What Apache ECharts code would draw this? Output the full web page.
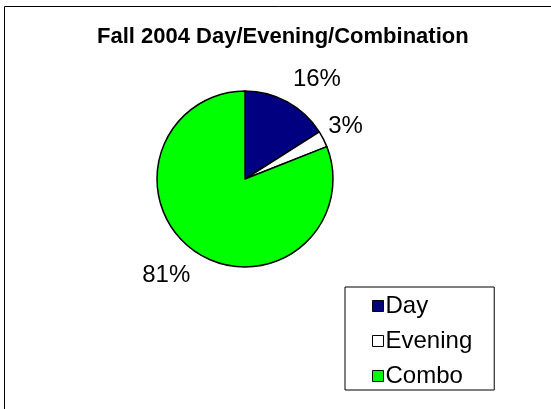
<!DOCTYPE html>
<html>
<head>
<meta charset="UTF-8">
<title>Fall 2004 Day/Evening/Combination</title>
<script src="https://cdn.jsdelivr.net/npm/echarts@6/dist/echarts.min.js"></script>
<style>
  html, body { margin: 0; padding: 0; background: #fff; }
  #chart { width: 551px; height: 409px; }
</style>
</head>
<body>
<div id="chart"></div>
<script>
var categories = ['Day', 'Evening', 'Combo'];
var percents = [16, 3, 81];
var colors = ['#000080', '#ffffff', '#00ff00'];
// label leader tweaks so the text sits where Excel put it
var lineLen = [26, 29, 29];
var lineLen2 = [-12, -26, -16];

var myChart = echarts.init(document.getElementById('chart'));

var pieData = categories.map(function (name, i) {
  return {
    name: name,
    value: percents[i],
    itemStyle: { color: colors[i] },
    labelLine: { length: lineLen[i], length2: lineLen2[i] }
  };
});

var option = {
  animation: false,
  title: {
    text: 'Fall 2004 Day/Evening/Combination',
    left: 92,
    top: 21,
    textStyle: { fontFamily: 'Liberation Sans, Arial', fontSize: 22, fontWeight: 'bold', color: '#000' }
  },
  graphic: [{
    type: 'rect',
    shape: { x: 4.5, y: 6.5, width: 600, height: 500 },
    style: { fill: 'none', stroke: '#000', lineWidth: 1 },
    z: -1
  }],
  legend: {
    orient: 'vertical',
    left: 345,
    top: 287,
    padding: [7, 22, 2, 27],
    itemGap: 11,
    itemWidth: 11,
    itemHeight: 11,
    borderColor: '#000',
    borderWidth: 1,
    icon: 'rect',
    data: categories,
    itemStyle: { borderColor: '#000', borderWidth: 1 },
    textStyle: { fontFamily: 'Liberation Sans, Arial', fontSize: 24, color: '#000', padding: [0, 0, 0, -3] }
  },
  series: [{
    name: 'Fall 2004',
    type: 'pie',
    center: [245, 179],
    radius: 88,
    startAngle: 90,
    clockwise: true,
    avoidLabelOverlap: false,
    itemStyle: { borderColor: '#000', borderWidth: 1.5 },
    label: {
      show: true,
      position: 'outside',
      formatter: '{c}%',
      fontFamily: 'Liberation Sans, Arial',
      fontSize: 24,
      color: '#000'
    },
    labelLine: { show: false },
    emphasis: { disabled: true },
    data: pieData
  }]
};

myChart.setOption(option);
</script>
</body>
</html>
